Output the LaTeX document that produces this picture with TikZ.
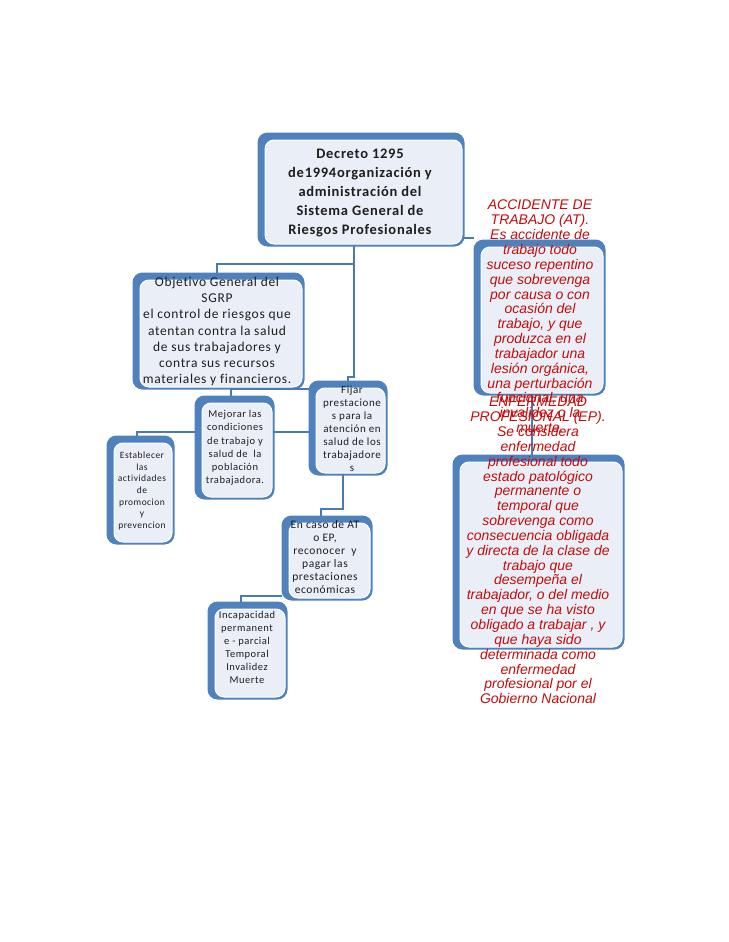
\documentclass[tikz,border=0pt]{standalone}
\usepackage{fontspec}
\setmainfont{Carlito}[LetterSpace=5,Ligatures=NoCommon]
\newfontfamily\redfont{Liberation Sans}
\usetikzlibrary{backgrounds,calc}
\pgfdeclarelayer{bottom}
\pgfsetlayers{bottom,background,main}
\definecolor{bblue}{RGB}{79,129,189}
\definecolor{lfill}{RGB}{234,239,247}
\definecolor{cline}{RGB}{74,122,182}
\definecolor{rtext}{RGB}{196,12,12}
\definecolor{btext}{RGB}{30,30,30}
\begin{document}
\begin{tikzpicture}[x=1pt,y=-1pt,
  boxshape/.style={rectangle, rounded corners=9pt, fill=lfill, draw=white, line width=1pt, inner sep=0pt},
  boxtext/.style={inner sep=0pt, align=center, text=btext},
  redtxt/.style={inner sep=0pt, align=center, text=rtext, font=\redfont\itshape\fontsize{14}{14.85}\selectfont},
  conn/.style={draw=cline, line width=2pt}]
\useasboundingbox (0,0) rectangle (728,942);
\begin{pgfonlayer}{bottom}
\fill[white] (0,0) rectangle (728,942);
\end{pgfonlayer}

% boxes
\node[boxshape, minimum width=197pt, minimum height=104pt] (dec) at (363.5,192) {};
\node[boxshape, minimum width=162pt, minimum height=107pt] (obj) at (221,333.5) {};
\node[boxshape, minimum width=122pt, minimum height=146pt] (at) at (542,320) {};
\node[boxshape, minimum width=162pt, minimum height=185pt] (ep) at (541,554.5) {};
\node[boxshape, minimum width=70pt, minimum height=94pt] (mej) at (237,450) {};
\node[boxshape, minimum width=69pt, minimum height=85pt] (fij) at (350.5,430.5) {};
\node[boxshape, minimum width=58pt, minimum height=99pt] (est) at (143,492.5) {};
\node[boxshape, minimum width=81pt, minimum height=75pt] (enc) at (329.5,560.5) {};
\node[boxshape, minimum width=70pt, minimum height=88pt] (inc) at (250,653) {};

\begin{scope}[on background layer]
\foreach \n in {dec,obj,at,ep,mej,fij,est,enc,inc}{
  \fill[bblue, rounded corners=10pt] ($(\n.north west)+(-7,-7)$) rectangle ($(\n.south east)+(2,2)$);
}
\end{scope}

% connectors
\draw[conn] ([xshift=-9.5pt]dec.south) -- ++(0,19) -| ([xshift=-4pt,yshift=7pt]obj.north);
\draw[conn] ([xshift=-9.5pt]dec.south) -- ++(0,132) -| ([xshift=-3pt,yshift=7pt]fij.north);
\coordinate (c3) at ([yshift=7pt]dec.south east);
\draw[conn] (c3) -- ($(c3 -| at.west)+(-7,0)$);
\draw[conn] ($(fij.north west)+(-7,1)$) -| ([xshift=-6pt,yshift=7pt]mej.north);
\coordinate (c5) at ($(mej.west)+(-7,-18)$);
\draw[conn] (c5) -| ([xshift=-6pt,yshift=7pt]est.north);
\coordinate (c6) at ($(mej.east)+(0,-18)$);
\draw[conn] (c6) -- ($(c6 -| fij.west)+(-7,0)$);
\draw[conn] ([xshift=-8pt]fij.south) -- ++(0,35) -| ([xshift=-9pt,yshift=7pt]enc.north);
\coordinate (c8) at ($(enc.south west)+(-7,-3)$);
\draw[conn] (c8) -| ([xshift=-9pt,yshift=7pt]inc.north);
\coordinate (c9) at ([xshift=-10pt]at.south);
\draw[conn] (c9) -- ($(c9 |- ep.north)+(0,-7)$);

% box texts
\node[boxtext, font=\bfseries\fontsize{14.5}{19}\selectfont] (dect) at (360,193)
  {Decreto 1295\\de1994organización y\\administración del\\Sistema General de\\Riesgos Profesionales};
\node[boxtext, font=\fontsize{13.5}{16.2}\selectfont] (objt) at (217,331.5)
  {Objetivo General del\\SGRP\\el control de riesgos que\\atentan contra la salud\\de sus trabajadores y\\contra sus recursos\\materiales y financieros.};
\node[boxtext, font=\fontsize{10.5}{13.2}\selectfont] (mejt) at (235,448)
  {Mejorar las\\condiciones\\de trabajo y\\salud de \ la\\población\\trabajadora.};
\node[boxtext, font=\fontsize{11}{13}\selectfont] (fijt) at (352,429)
  {Fijar\\prestacione\\s para la\\atención en\\salud de los\\trabajadore\\s};
\node[boxtext, font=\fontsize{9.5}{11.7}\selectfont] (estt) at (142,491)
  {Establecer\\las\\actividades\\de\\promocion\\y\\prevencion};
\node[boxtext, font=\fontsize{11.5}{13}\selectfont] (enct) at (325,557.5)
  {En caso de AT\\o EP,\\reconocer \ y\\pagar las\\prestaciones\\económicas};
\node[boxtext, font=\fontsize{10.5}{13}\selectfont] (inct) at (247,647)
  {Incapacidad\\permanent\\e - parcial\\Temporal\\Invalidez\\Muerte};

% red texts
\node[redtxt] (att) at (540,316.5)
  {ACCIDENTE DE\\TRABAJO (AT).\\Es accidente de\\trabajo todo\\suceso repentino\\que sobrevenga\\por causa o con\\ocasión del\\trabajo, y que\\produzca en el\\trabajador una\\lesión orgánica,\\una perturbación\\funcional, una\\invalidez o la\\muerte.};
\node[redtxt] (ept) at (538,550.5)
  {ENFERMEDAD\\PROFESIONAL (EP).\\Se considera\\enfermedad\\profesional todo\\estado patológico\\permanente o\\temporal que\\sobrevenga como\\consecuencia obligada\\y directa de la clase de\\trabajo que\\desempeña el\\trabajador, o del medio\\en que se ha visto\\obligado a trabajar , y\\que haya sido\\determinada como\\enfermedad\\profesional por el\\Gobierno Nacional};
\end{tikzpicture}
\end{document}
